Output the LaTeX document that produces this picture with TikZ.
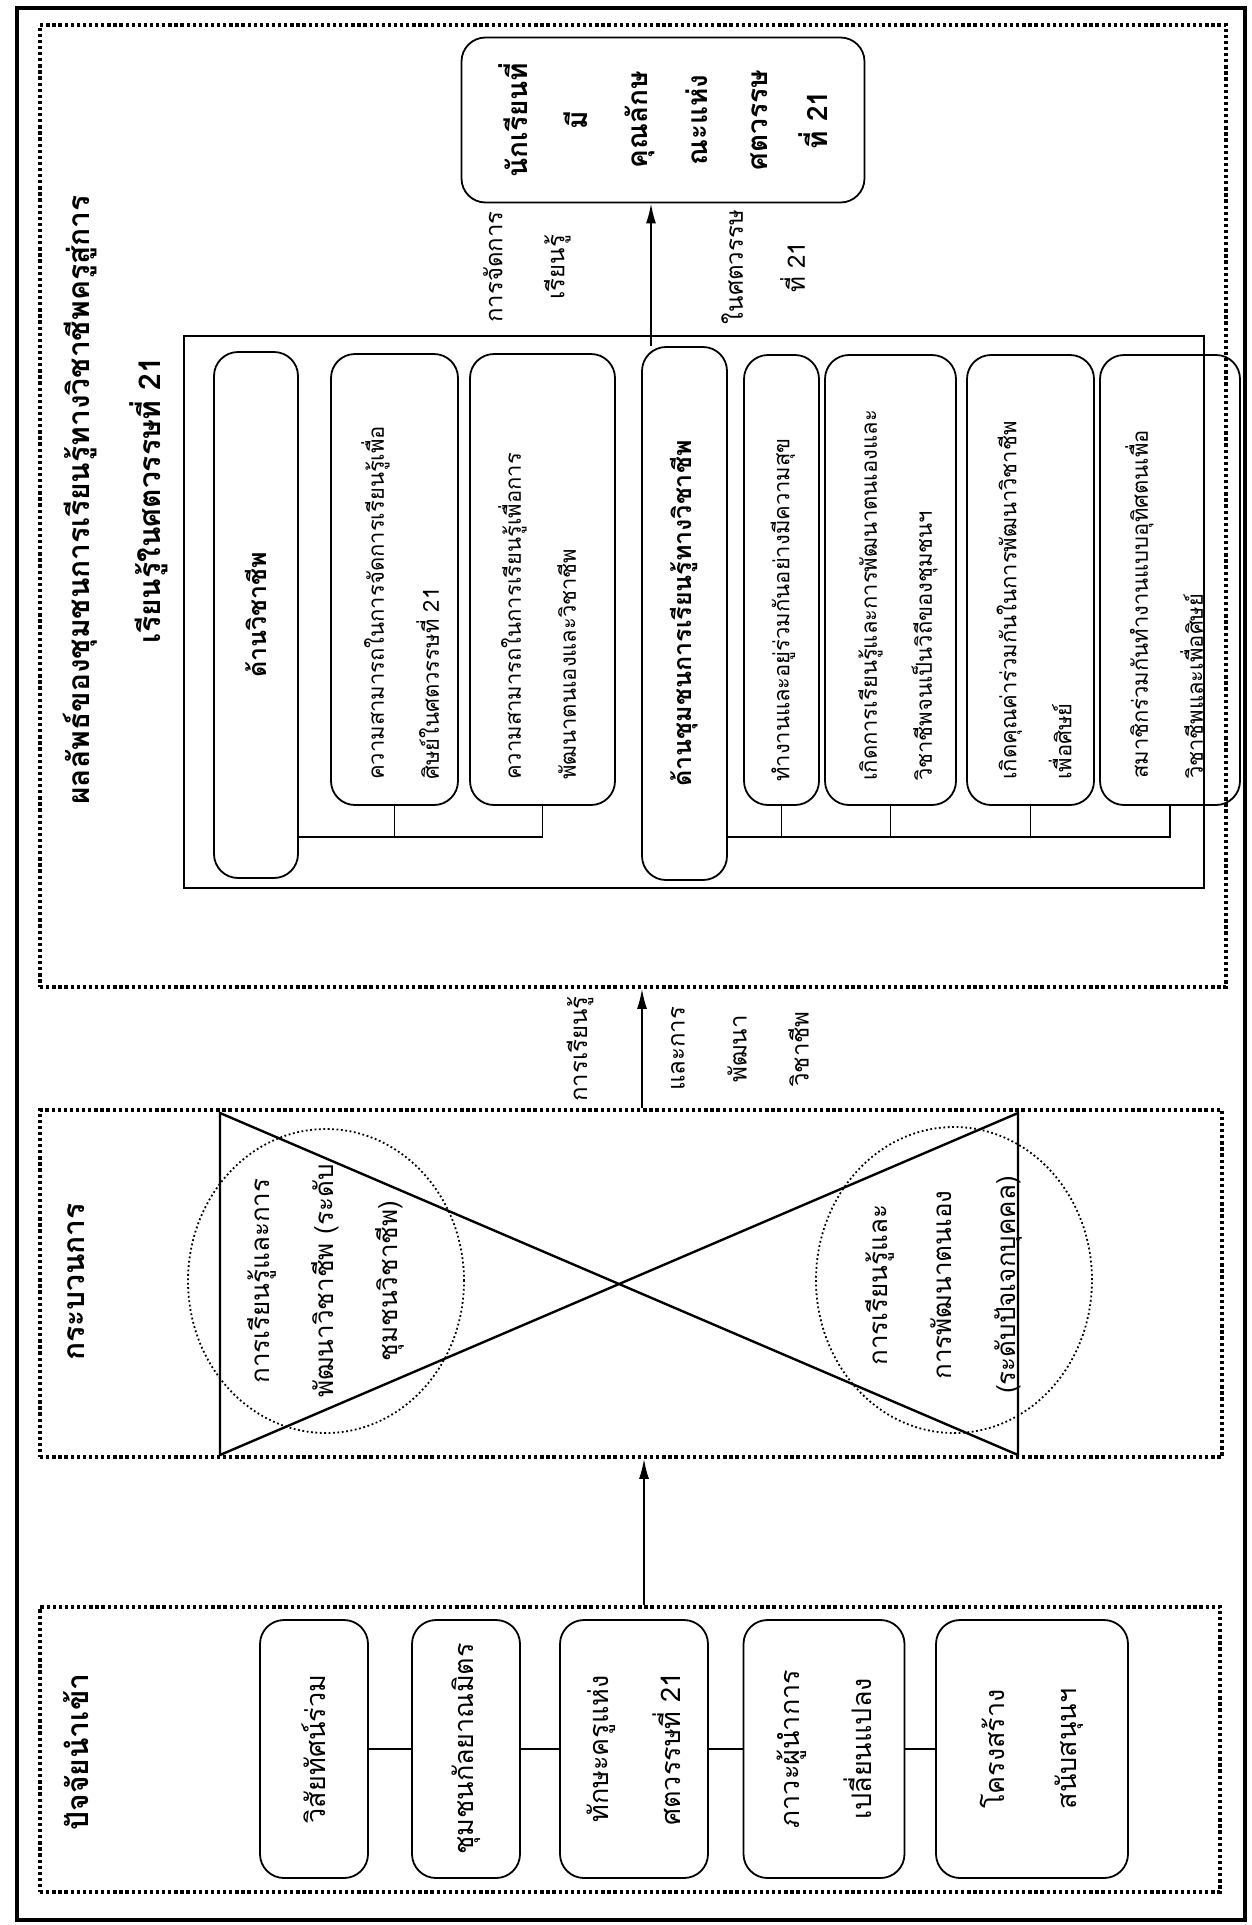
\documentclass[tikz,border=0pt]{standalone}
\usepackage{fontspec}
\setmainfont{Loma}[Script=Thai]
\usetikzlibrary{arrows.meta,shapes.geometric,calc}
\tikzset{
 frame/.style={draw, line width=4.5pt},
 secbox/.style={draw, line width=3.6pt, dash pattern=on 3.3pt off 2.8pt},
 rbox/.style={draw, line width=1.8pt, rounded corners=24pt, rotate=90, inner sep=0pt},
 lbl/.style={rotate=90, inner sep=0pt},
 ttl/.style={rotate=90, inner sep=0pt, font=\fontsize{30}{71}\selectfont\bfseries, align=center},
 otxt/.style={rotate=90, inner sep=0pt, font=\fontsize{22}{55}\selectfont, align=left, anchor=west},
 itxt/.style={font=\fontsize{27}{72}\selectfont, align=center},
 etxt/.style={rotate=90, inner sep=0pt, font=\fontsize{26}{64}\selectfont, align=center},
 atxt/.style={rotate=90, inner sep=0pt, font=\fontsize{24}{62}\selectfont, align=center},
 arr/.style={line width=1.8pt, -{Latex[length=20pt,width=10pt]}},
 conn/.style={line width=1.8pt},
 dots/.style={draw, line width=1.8pt, dash pattern=on 1.8pt off 2.6pt, ellipse, inner sep=0pt},
}
\begin{document}
\begin{tikzpicture}[x=1pt,y=-1pt]
\useasboundingbox (0,0) rectangle (1252,1925);
\node[frame, minimum width=1228pt, minimum height=1912pt] (outer) at (631,964) {};
% sections
\node[secbox, minimum width=1186pt, minimum height=962pt] (sec3) at (633,506) {};
\node[secbox, minimum width=1182pt, minimum height=347pt] (sec2) at (631,1283.5) {};
\node[secbox, minimum width=1180pt, minimum height=285pt] (sec1) at (630,1749.5) {};
% titles
\node[ttl] (t1) at (76,1752) {ปัจจัยนำเข้า};
\node[ttl] (t2) at (76,1282) {กระบวนการ};
\node[ttl] (t3) at (116,500) {ผลลัพธ์ของชุมชนการเรียนรู้ทางวิชาชีพครูสู่การ\\เรียนรู้ในศตวรรษที่ 21};
% section 1
\node[rbox, itxt, minimum width=258pt, minimum height=108pt] (i1) at (314,1749) {วิสัยทัศน์ร่วม};
\node[rbox, itxt, minimum width=258pt, minimum height=108pt] (i2) at (466,1749) {ชุมชนกัลยาณมิตร};
\node[rbox, itxt, minimum width=258pt, minimum height=148pt] (i3) at (634,1749) {ทักษะครูแห่ง\\ศตวรรษที่ 21};
\node[rbox, itxt, minimum width=258pt, minimum height=161pt] (i4) at (824,1749) {ภาวะผู้นำการ\\เปลี่ยนแปลง};
\node[rbox, itxt, minimum width=258pt, minimum height=192pt] (i5) at (1032,1749) {โครงสร้าง\\สนับสนุนฯ};
\draw[conn] (i1.south) -- (i2.north);
\draw[conn] (i2.south) -- (i3.north);
\draw[conn] (i3.south) -- (i4.north);
\draw[conn] (i4.south) -- (i5.north);
% section 2
\draw[line width=2.4pt, line join=miter] (220,1113) -- (220,1455) -- (1018,1113) -- (1018,1455) -- cycle;
\node[dots, minimum width=276pt, minimum height=304pt] (e1) at (326,1281) {};
\node[dots, minimum width=276pt, minimum height=306pt] (e2) at (954,1280) {};
\node[etxt] (e1t) at (e1) {การเรียนรู้และการ\\พัฒนาวิชาชีพ (ระดับ\\ชุมชนวิชาชีพ)};
\node[etxt] (e2t) at (944,1285) {การเรียนรู้และ\\การพัฒนาตนเอง\\(ระดับปัจเจกบุคคล)};
% section 3
\node[draw, line width=2.2pt, minimum width=1020pt, minimum height=552pt] (inner) at (694,612) {};
\node[rbox, minimum width=526pt, minimum height=84pt, font=\fontsize{25}{60}\selectfont\bfseries] (prof) at (256,615) {ด้านวิชาชีพ};
\node[rbox, minimum width=451pt, minimum height=127pt] (b2) at (394.5,579.5) {};
\node[rbox, minimum width=451pt, minimum height=145pt] (b3) at (542.5,579.5) {};
\node[rbox, minimum width=533pt, minimum height=85pt, font=\fontsize{25}{60}\selectfont\bfseries] (comm) at (684.5,613.5) {ด้านชุมชนการเรียนรู้ทางวิชาชีพ};
\node[rbox, minimum width=450pt, minimum height=75pt] (b5) at (781.5,580) {};
\node[rbox, minimum width=450pt, minimum height=131pt] (b6) at (890.5,580) {};
\node[rbox, minimum width=450pt, minimum height=127pt] (b7) at (1030.5,580) {};
\node[rbox, minimum width=450pt, minimum height=140pt] (b8) at (1170,580) {};
\node[otxt] (b2t) at (400,780) {ความสามารถในการจัดการเรียนรู้เพื่อ\\ศิษย์ในศตวรรษที่ 21};
\node[otxt] (b3t) at (537,780) {ความสามารถในการเรียนรู้เพื่อการ\\พัฒนาตนเองและวิชาชีพ};
\node[otxt] (b5t) at (783,782) {ทำงานและอยู่ร่วมกันอย่างมีความสุข};
\node[otxt] (b6t) at (898,781) {เกิดการเรียนรู้และการพัฒนาตนเองและ\\วิชาชีพจนเป็นวิถีของชุมชนฯ};
\node[otxt] (b7t) at (1034,780) {เกิดคุณค่าร่วมกันในการพัฒนาวิชาชีพ\\เพื่อศิษย์};
\node[otxt] (b8t) at (1164,779) {สมาชิกร่วมกันทำงานแบบอุทิศตนเพื่อ\\วิชาชีพและเพื่อศิษย์};
\coordinate (yb) at (0,837);
\draw[conn] (prof.south |- yb) -- (b3.west |- yb) -- (b3.west);
\draw[conn] (b2.west) -- (b2.west |- yb);
\draw[conn] (comm.south |- yb) -- (b8.west |- yb) -- (b8.west);
\draw[conn] (b5.west) -- (b5.west |- yb);
\draw[conn] (b6.west) -- (b6.west |- yb);
\draw[conn] (b7.west) -- (b7.west |- yb);
% top
\node[rbox, minimum width=165pt, minimum height=403pt, font=\fontsize{28}{60}\selectfont\bfseries, align=center] (stud) at (663,120) {นักเรียนที่\\มี\\คุณลักษ\\ณะแห่ง\\ศตวรรษ\\ที่ 21};
\node[atxt] (l1) at (527,267) {การจัดการ\\เรียนรู้};
\node[atxt] (l2) at (763,267) {ในศตวรรษ\\ที่ 21};
\node[atxt] (l3) at (580,1049) {การเรียนรู้};
\node[atxt] (l4) at (740,1049) {และการ\\พัฒนา\\วิชาชีพ};
% arrows
\coordinate (c1) at (644,0);
\coordinate (c2) at (642,0);
\coordinate (c3) at (651,0);
\draw[arr] (sec1.north -| c1) -- (sec2.south -| c1);
\draw[arr] (sec2.north -| c2) -- (sec3.south -| c2);
\draw[arr] (comm.east -| c3) -- (stud.west -| c3);
\end{tikzpicture}
\end{document}
